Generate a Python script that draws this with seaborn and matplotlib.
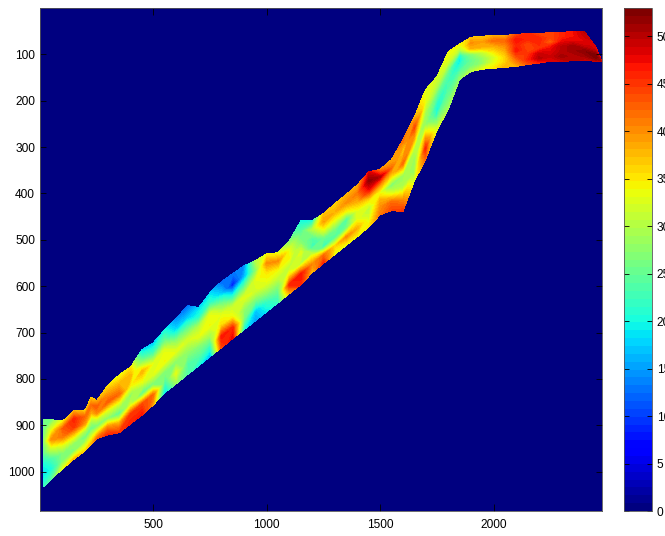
import matplotlib
matplotlib.use('Agg')
import matplotlib.pyplot as plt
import numpy as np
import seaborn as sns

plt.rcParams['font.family'] = ['Liberation Sans', 'DejaVu Sans']

# size of the image in pixels of the original data, and colour range
n_rows = 1085
n_cols = 2478
value_max = 53

x_ticks = [500, 1000, 1500, 2000]
y_ticks = [100, 200, 300, 400, 500, 600, 700, 800, 900, 1000]
bar_ticks = [0, 5, 10, 15, 20, 25, 30, 35, 40, 45, 50]

# the road band, one vertical section at a time
section_x = [15, 50, 100, 150, 200, 225, 250, 300, 350, 400, 450, 500, 550, 600, 650, 700, 750, 800, 850,
             900, 950, 1000, 1050, 1100, 1150, 1200, 1250, 1300, 1350, 1400, 1450, 1500, 1550, 1600,
             1650, 1700, 1750, 1800, 1850, 1900, 1950, 2000, 2050, 2100, 2150, 2200, 2250, 2300,
             2350, 2400, 2450, 2478]
section_top = [888, 888, 891, 869, 867, 839, 847, 813, 791, 774, 737, 722, 694, 670, 642, 646, 614, 590, 573,
               556, 545, 530, 528, 502, 459, 459, 443, 422, 402, 381, 353, 348, 327, 284,
               236, 176, 148, 94, 78, 63, 61, 59, 59, 57, 55, 55, 53, 53,
               50, 51, 83, 115]
section_bottom = [1033, 1016, 994, 973, 955, 942, 929, 921, 916, 897, 878, 856, 830, 811, 791, 772, 752, 733, 713,
                  694, 675, 655, 636, 616, 597, 571, 551, 532, 512, 493, 472, 446, 437, 439,
                  374, 327, 264, 219, 154, 137, 132, 130, 128, 126, 122, 119, 115, 115,
                  114, 113, 115, 116]

# seven samples across each section, top edge to bottom edge
band_values = [
    [26, 26, 27, 25, 20, 19, 22],
    [26, 33, 40, 31, 23, 20, 24],
    [34, 43, 41, 33, 27, 27, 33],
    [38, 46, 45, 36, 28, 27, 38],
    [36, 42, 39, 30, 25, 31, 36],
    [36, 42, 38, 30, 25, 32, 38],
    [38, 43, 40, 31, 26, 34, 42],
    [35, 39, 43, 33, 27, 40, 46],
    [33, 38, 42, 32, 24, 38, 45],
    [35, 38, 34, 27, 32, 45, 46],
    [18, 26, 38, 33, 24, 44, 47],
    [17, 23, 33, 33, 26, 42, 38],
    [20, 25, 33, 34, 27, 23, 18],
    [14, 18, 27, 33, 27, 33, 28],
    [12, 17, 25, 32, 28, 24, 24],
    [18, 21, 30, 33, 27, 24, 20],
    [18, 22, 33, 34, 29, 22, 16],
    [12, 17, 26, 33, 36, 47, 44],
    [13, 8, 20, 31, 34, 46, 48],
    [14, 16, 25, 33, 28, 26, 20],
    [30, 27, 33, 32, 26, 17, 15],
    [34, 40, 35, 33, 28, 22, 19],
    [33, 40, 34, 31, 27, 24, 22],
    [27, 33, 34, 30, 36, 46, 38],
    [20, 24, 27, 33, 30, 47, 46],
    [20, 30, 24, 22, 33, 40, 37],
    [37, 39, 33, 25, 22, 42, 46],
    [36, 38, 33, 26, 24, 36, 33],
    [38, 40, 34, 23, 26, 40, 33],
    [38, 41, 38, 33, 33, 38, 34],
    [48, 52, 47, 36, 30, 32, 35],
    [40, 50, 40, 33, 38, 40, 41],
    [38, 42, 35, 26, 33, 42, 44],
    [42, 36, 42, 28, 30, 40, 45],
    [38, 44, 38, 30, 28, 28, 32],
    [33, 33, 29, 28, 38, 46, 42],
    [32, 30, 25, 21, 20, 27, 33],
    [34, 32, 25, 23, 24, 26, 29],
    [34, 30, 20, 19, 22, 25, 28],
    [37, 40, 38, 27, 25, 26, 30],
    [37, 39, 38, 31, 28, 28, 33],
    [38, 42, 38, 35, 32, 33, 35],
    [38, 42, 40, 38, 36, 36, 38],
    [44, 47, 46, 47, 44, 41, 38],
    [46, 46, 44, 44, 45, 46, 43],
    [44, 46, 46, 45, 49, 50, 46],
    [44, 44, 42, 47, 48, 49, 48],
    [46, 46, 48, 50, 50, 51, 49],
    [47, 47, 48, 51, 51, 50, 50],
    [50, 49, 48, 49, 52, 51, 49],
    [48, 48, 50, 52, 53, 52, 49],
    [46, 46, 48, 50, 50, 48, 46],
]

jet = plt.get_cmap('jet', 64)

fig = plt.figure(figsize=(6.65, 5.36), dpi=100)
ax = fig.add_axes([40 / 665, 1 - 511 / 536, 562 / 665, 503 / 536])
cax = fig.add_axes([624 / 665, 1 - 511 / 536, 28 / 665, 503 / 536])

# everything outside the band is zero
background = np.zeros((n_rows, n_cols))
sns.heatmap(background, cmap=jet, vmin=0, vmax=value_max, ax=ax, cbar_ax=cax,
            xticklabels=False, yticklabels=False, rasterized=True)

# band goes on top, contourf keeps the edges sharp and the colours on the jet scale
band = np.array(band_values, dtype=float)
xs = np.repeat(np.array(section_x, dtype=float)[:, None], band.shape[1], axis=1)
ys = np.linspace(section_top, section_bottom, band.shape[1], axis=1)
ax.contourf(xs, ys, band, levels=np.linspace(0, value_max, 65), cmap=jet, vmin=0, vmax=value_max)

ax.set_xticks(x_ticks, labels=[str(v) for v in x_ticks])
ax.set_yticks(y_ticks, labels=[str(v) for v in y_ticks], rotation=0)
ax.tick_params(direction='in', width=0.6, labelsize=8.6, color='black',
               bottom=True, left=True, top=True, right=True, labelbottom=True, labelleft=True)
ax.tick_params(axis='x', length=5, pad=6)
ax.tick_params(axis='y', length=4, pad=3.6)
for spine in ax.spines.values():
    spine.set_visible(True)
    spine.set_linewidth(0.6)
    spine.set_color('#555555')

cbar = ax.collections[0].colorbar
cbar.set_ticks(bar_ticks)
cbar.ax.tick_params(direction='in', length=3.6, width=0.6, labelsize=8.6, left=True, right=True, pad=3.5)
cbar.outline.set_visible(True)
cbar.outline.set_linewidth(0.6)
cbar.outline.set_edgecolor('#555555')

fig.savefig('out.png', dpi=100)
